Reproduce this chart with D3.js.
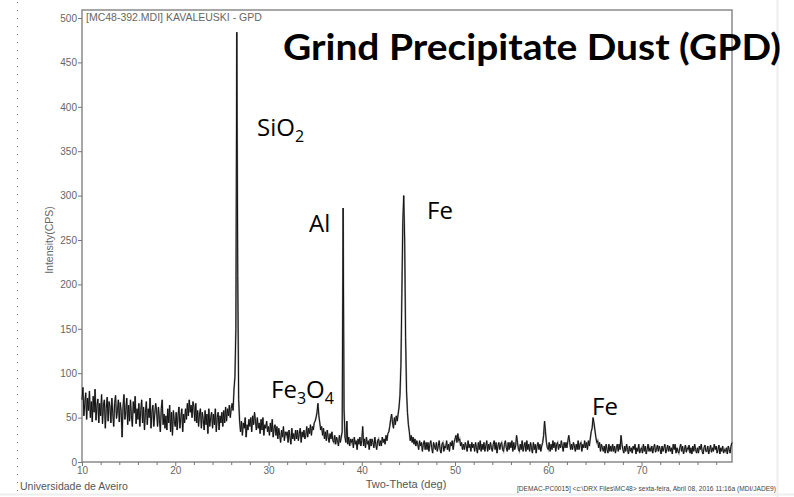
<!DOCTYPE html>
<html><head><meta charset="utf-8">
<script src="https://cdn.jsdelivr.net/npm/d3@7"></script>
<style>
html,body{margin:0;padding:0;background:#fff;}
svg{display:block;}
</style></head>
<body>
<svg id="chart" width="794" height="497"></svg>
<script>
// Two-Theta grid: start 10.0 deg, step 0.1 deg
const thetaStart = 10.0;
const thetaStep = 0.1;
// Intensity (CPS), one row per degree
const cps10s = [
70,84,52,66,78,48,72,58,80,50, 68,45,74,56,82,47,63,71,44,66,
52,76,43,64,70,38,60,73,46,68, 62,44,72,55,40,66,75,49,58,70,
45,67,57,28,62,76,48,58,72,42, 64,46,70,52,40,68,55,74,43,60,
48,66,40,58,70,44,62,36,56,68, 42,60,50,72,38,56,64,40,54,66,
58,40,62,48,34,60,70,42,54,38, 52,36,60,44,64,34,56,30,58,46];
const cps20s = [
40,56,36,52,62,38,50,60,34,54, 44,60,48,66,52,70,56,64,50,68,
62,46,66,44,58,40,54,60,38,56, 48,36,58,42,54,32,60,40,50,56,
38,54,42,60,34,50,56,36,52,44, 56,40,58,44,62,46,60,52,64,50,
60,66,58,82,96,150,484,210,70,46, 34,46,30,44,38,50,28,42,36,48,
40,50,34,52,42,56,46,36,50,38, 44,32,48,36,50,30,42,38,46,34];
const cps30s = [
40,30,44,34,48,28,38,42,30,40, 26,38,30,22,36,28,40,24,34,30,
34,22,36,28,20,38,26,32,24,36, 26,36,24,32,38,22,34,28,36,26,
30,40,28,38,32,42,30,40,36,44, 46,50,56,66,52,44,36,40,30,38,
26,34,24,36,28,22,32,26,34,24, 22,30,20,28,24,18,30,22,28,34,
286,60,28,22,46,20,28,18,26,22, 26,16,28,20,24,14,26,20,28,18];
const cps40s = [
24,40,18,26,16,28,20,24,14,26, 18,26,22,16,28,20,14,24,26,18,
24,18,28,22,26,20,30,24,32,34, 40,48,54,44,38,50,42,52,46,54,
62,76,110,190,270,300,250,140,80,56, 42,34,24,30,22,28,20,26,18,24,
20,14,24,18,22,12,20,24,14,22, 14,22,12,20,24,16,10,22,18,14,
22,12,18,24,14,10,20,22,12,18, 16,24,14,20,12,22,18,24,14,22];
const cps50s = [
26,30,22,32,24,26,18,22,14,20, 14,22,18,12,24,16,20,12,22,16,
20,12,22,16,10,22,14,24,12,20, 14,22,12,18,24,12,20,14,22,16,
12,20,24,14,22,10,18,22,14,20, 22,14,12,20,24,16,12,22,14,22,
16,24,12,22,14,18,30,22,14,12, 20,14,24,12,18,22,12,24,14,20,
12,22,16,10,22,14,20,10,18,22, 14,20,12,18,22,30,46,34,22,16];
const cps60s = [
14,22,12,20,14,24,16,22,12,20, 22,14,20,16,24,18,12,22,16,22,
16,24,30,22,14,20,14,22,18,12, 20,14,24,14,20,22,12,20,16,24,
16,22,14,24,18,26,34,38,50,44, 36,28,22,24,16,22,12,20,16,12,
18,10,20,14,10,20,12,18,12,20, 12,18,10,16,20,12,20,14,30,20,
14,10,18,12,20,14,9,18,12,16, 10,18,14,20,9,16,12,20,10,14];
const cps70s = [
16,10,20,12,18,9,14,20,12,16, 12,18,10,16,20,11,14,19,12,18,
14,9,18,12,16,20,10,14,19,12, 18,12,16,9,20,14,20,10,16,12,
10,16,20,12,18,9,14,19,11,16, 14,19,10,16,9,18,12,20,14,10,
16,10,18,14,20,12,9,16,19,12, 12,18,9,14,19,11,16,12,20,14,
18,10,14,19,9,16,12,18,10,14, 12,16,9,18,14,10,18,22];

const yTicks = [0,50,100,150,200,250,300,350,400,450,500];
const xMajorTicks = [10,20,30,40,50,60,70];
const xMinorTicks = [12,14,16,18,22,24,26,28,32,34,36,38,42,44,46,48,52,54,56,58,62,64,66,68,72,74,76,78];

const chartTitle = "Grind Precipitate Dust (GPD)";
const fileTitle = "[MC48-392.MDI] KAVALEUSKI - GPD";
const yLabel = "Intensity(CPS)";
const xLabel = "Two-Theta (deg)";
const leftFooter = "Universidade de Aveiro";
const rightFooter = "[DEMAC-PC0015] <c:\\DRX Files\\MC48> sexta-feira, Abril 08, 2016 11:16a (MDI/JADE9)";

const peakLabels = [
  {main:"SiO", sub:"2", tail:""},
  {main:"Al", sub:"", tail:""},
  {main:"Fe", sub:"", tail:""},
  {main:"Fe", sub:"3", tail:"O", sub2:"4"},
  {main:"Fe", sub:"", tail:""}
];

const intensity = [].concat(cps10s, cps20s, cps30s, cps40s, cps50s, cps60s, cps70s);
const data = intensity.map((v,i)=>({t: +(thetaStart + i*thetaStep).toFixed(2), v}));

const svg = d3.select("#chart");
const L = 82, R = 732, T = 10, B = 462;
const x = d3.scaleLinear().domain([10, 79.7]).range([L, R]);
const y = d3.scaleLinear().domain([0, 500]).range([B, 18]);

// decorative page edges
svg.append("line").attr("x1",17.5).attr("x2",17.5).attr("y1",2).attr("y2",497)
  .attr("stroke","#777").attr("stroke-width",1).attr("stroke-dasharray","1,7");
svg.append("line").attr("x1",777.5).attr("x2",777.5).attr("y1",0).attr("y2",497)
  .attr("stroke","#eeeeee").attr("stroke-width",2);
svg.append("line").attr("x1",0).attr("x2",794).attr("y1",494.5).attr("y2",494.5)
  .attr("stroke","#eeeeee").attr("stroke-width",2);

// frame
svg.append("rect").attr("x",L).attr("y",T).attr("width",R-L).attr("height",B-T)
  .attr("fill","none").attr("stroke","#8a8a8a").attr("stroke-width",1.5);

// axes
const sans = "'Liberation Sans',Arial,sans-serif";
const gy = svg.append("g").attr("transform",`translate(${L},0)`)
  .call(d3.axisLeft(y).tickValues(yTicks).tickSize(4).tickPadding(1));
gy.select(".domain").remove();
gy.selectAll("line").attr("stroke","#777");
gy.selectAll("text").attr("fill","#666").style("font-family",sans).style("font-size","10px");

const gxMinor = svg.append("g").attr("transform",`translate(0,${B})`)
  .call(d3.axisBottom(x).tickValues(xMinorTicks).tickSize(3).tickFormat(""));
gxMinor.select(".domain").remove();
gxMinor.selectAll("line").attr("stroke","#777");
const gx = svg.append("g").attr("transform",`translate(0,${B})`)
  .call(d3.axisBottom(x).tickValues(xMajorTicks).tickSize(4).tickPadding(1));
gx.select(".domain").remove();
gx.selectAll("line").attr("stroke","#777");
gx.selectAll("text").attr("fill","#666").style("font-family",sans).style("font-size","10px");

// pattern
const line = d3.line().x(d=>x(d.t)).y(d=>y(d.v));
svg.append("path").datum(data).attr("d",line).attr("fill","none")
  .attr("stroke","#a0a0a0").attr("stroke-width",1.8);
svg.append("path").datum(data).attr("d",line).attr("fill","none")
  .attr("stroke","#111").attr("stroke-width",1);

// texts
svg.append("text").attr("x",86).attr("y",21).text(fileTitle)
  .attr("fill","#666").style("font-family",sans).style("font-size","10.5px");
svg.append("text").attr("transform","translate(53,240) rotate(-90)").attr("text-anchor","middle")
  .text(yLabel).attr("fill","#666").style("font-family",sans).style("font-size","10.5px");
svg.append("text").attr("x",406).attr("y",488).attr("text-anchor","middle").text(xLabel)
  .attr("fill","#555").style("font-family",sans).style("font-size","11px");
svg.append("text").attr("x",20).attr("y",490).text(leftFooter)
  .attr("fill","#555").style("font-family",sans).style("font-size","10.5px");
svg.append("text").attr("x",517).attr("y",491).text(rightFooter)
  .attr("fill","#444").attr("textLength",259).attr("lengthAdjust","spacingAndGlyphs")
  .style("font-family",sans).style("font-size","6.5px");

svg.append("text").attr("x",283).attr("y",60).text(chartTitle)
  .attr("fill","#000").attr("textLength",498).attr("lengthAdjust","spacingAndGlyphs")
  .style("font-family","Lato,'Open Sans',sans-serif").style("font-weight","bold").style("font-size","37px");

const labelPos = [[257,136],[309,232],[427,219],[271,398],[592,415]];
const lf = "'Open Sans',sans-serif";
peakLabels.forEach((p,i)=>{
  const t = svg.append("text").attr("x",labelPos[i][0]).attr("y",labelPos[i][1])
    .style("font-family",lf).style("font-size","24px").attr("fill","#000");
  t.append("tspan").text(p.main);
  if (p.sub) t.append("tspan").attr("dy",6).style("font-size","16px").text(p.sub);
  if (p.tail) t.append("tspan").attr("dy",-6).text(p.tail);
  if (p.sub2) t.append("tspan").attr("dy",6).style("font-size","16px").text(p.sub2);
});
</script>
</body></html>
